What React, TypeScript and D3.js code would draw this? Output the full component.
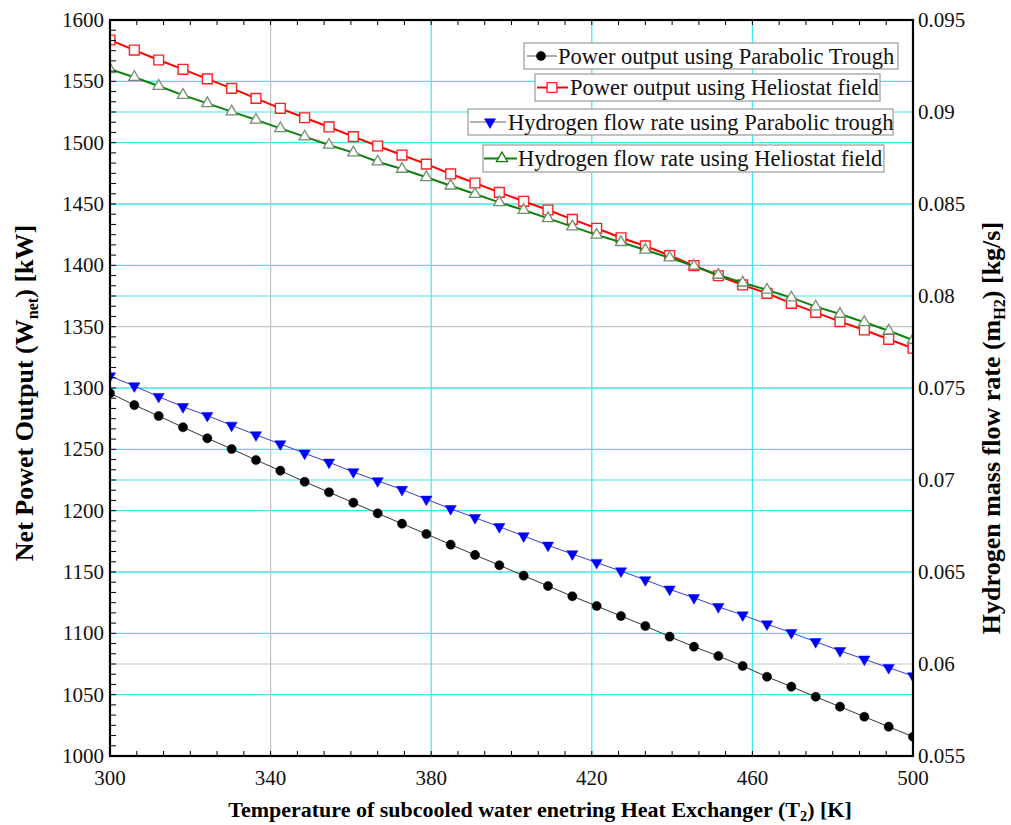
import React from "react";
import * as d3 from "d3";

// Inlet temperature of the subcooled water [K]
const temps = [
  300, 306.06, 312.12, 318.18, 324.24, 330.3, 336.36, 342.42, 348.48, 354.55,
  360.61, 366.67, 372.73, 378.79, 384.85, 390.91, 396.97, 403.03, 409.09, 415.15,
  421.21, 427.27, 433.33, 439.39, 445.45, 451.52, 457.58, 463.64, 469.7, 475.76,
  481.82, 487.88, 493.94, 500,
];

// Net power output, parabolic trough [kW]
const powerTrough = [
  1295.7, 1286.1, 1277.2, 1268.0, 1259.0, 1250.3, 1241.3, 1232.6, 1223.6, 1215.0,
  1206.5, 1197.8, 1189.4, 1181.0, 1172.3, 1163.9, 1155.5, 1147.0, 1138.6, 1130.2,
  1122.3, 1114.1, 1106.0, 1097.3, 1089.1, 1081.5, 1073.4, 1064.6, 1056.5, 1048.3,
  1040.2, 1032.0, 1023.9, 1015.7,
];

// Net power output, heliostat field [kW]
const powerHeliostat = [
  1583.7, 1575.5, 1567.4, 1559.8, 1552.0, 1544.3, 1536.1, 1528.0, 1520.3, 1512.8,
  1504.9, 1497.3, 1489.9, 1482.5, 1474.5, 1467.1, 1459.5, 1452.2, 1445.1, 1437.5,
  1430.2, 1422.5, 1415.8, 1408.0, 1399.7, 1391.5, 1384.0, 1377.2, 1369.0, 1361.7,
  1354.1, 1347.3, 1339.7, 1332.4,
];

// Hydrogen mass flow rate, parabolic trough [kg/s]
const h2Trough = [
  0.07565, 0.07511, 0.07453, 0.07398, 0.0735, 0.07297, 0.07245, 0.07196, 0.07145, 0.07096,
  0.07044, 0.06995, 0.06948, 0.06895, 0.06844, 0.06795, 0.06746, 0.06696, 0.06645, 0.06598,
  0.06551, 0.06505, 0.06457, 0.06406, 0.0636, 0.06311, 0.06266, 0.06217, 0.0617, 0.06121,
  0.06072, 0.06026, 0.0598, 0.05935,
];

// Hydrogen mass flow rate, heliostat field [kg/s]
const h2Heliostat = [
  0.09232, 0.09189, 0.09141, 0.09092, 0.09047, 0.09002, 0.08957, 0.08911, 0.08866, 0.08821,
  0.08779, 0.0873, 0.0869, 0.08645, 0.08599, 0.08554, 0.08509, 0.08467, 0.08422, 0.08377,
  0.08332, 0.08292, 0.0825, 0.08208, 0.08163, 0.08114, 0.08072, 0.08033, 0.07991, 0.07942,
  0.07902, 0.07857, 0.07811, 0.07761,
];

const xTicks = [300, 340, 380, 420, 460, 500];
const leftTicks = [1000, 1050, 1100, 1150, 1200, 1250, 1300, 1350, 1400, 1450, 1500, 1550, 1600];
const rightTicks = [0.055, 0.06, 0.065, 0.07, 0.075, 0.08, 0.085, 0.09, 0.095];
const rightTickLabels = ["0.055", "0.06", "0.065", "0.07", "0.075", "0.08", "0.085", "0.09", "0.095"];

const legendLabels = [
  "Power output using Parabolic Trough",
  "Power output using Heliostat field",
  "Hydrogen flow rate using Parabolic trough",
  "Hydrogen flow rate using Heliostat field",
];

const W = 1011;
const H = 825;
const L = 110, R = 913, T = 20, B = 756;
const FONT = "Liberation Serif, Times New Roman, serif";
const CYAN = "#45e6ee";
const GRAY = "#c4c4c4";

export default function App() {
  const x = d3.scaleLinear().domain([300, 500]).range([L, R]);
  const yL = d3.scaleLinear().domain([1000, 1600]).range([B, T]);
  const yR = d3.scaleLinear().domain([0.055, 0.095]).range([B, T]);

  const lineL = d3.line<number>().x((_, i) => x(temps[i])).y((d) => yL(d));
  const lineR = d3.line<number>().x((_, i) => x(temps[i])).y((d) => yR(d));

  const circle = d3.symbol().type(d3.symbolCircle).size(66)()!;
  const square = d3.symbol().type(d3.symbolSquare).size(96)()!;
  const triUp = d3.symbol().type(d3.symbolTriangle).size(54)()!;
  const triDown = triUp;

  const series = [
    { vals: powerTrough, line: lineL, y: yL, stroke: "#333", sw: 1, mk: circle, rot: 0, fill: "#000", mstroke: "#000", msw: 0.5 },
    { vals: h2Trough, line: lineR, y: yR, stroke: "#3a3ad6", sw: 1, mk: triDown, rot: 180, fill: "#0000ff", mstroke: "#0000ff", msw: 0.5 },
    { vals: powerHeliostat, line: lineL, y: yL, stroke: "#ff0000", sw: 2, mk: square, rot: 0, fill: "#fff", mstroke: "#ff2020", msw: 1.4 },
    { vals: h2Heliostat, line: lineR, y: yR, stroke: "#0a820a", sw: 2, mk: triUp, rot: 0, fill: "#fff", mstroke: "#6f8f6f", msw: 1.3 },
  ];

  // minor ticks: 72 divisions on the vertical, 30 on the horizontal
  const vMinor = d3.range(0, 73).map((k) => T + (k * (B - T)) / 72);
  const hMinor = d3.range(1, 30).map((k) => x(300 + (k * 200) / 30));

  const legend = [
    { box: [524, 43, 898, 69], line: [527, 557], mx: 541, tx: 558, lc: "#555", sw: 1, s: series[0] },
    { box: [535, 74, 880, 101], line: [537, 568], mx: 552, tx: 570, lc: "#ff0000", sw: 2, s: series[2] },
    { box: [468, 109, 893, 135], line: [470, 506], mx: 490, tx: 508, lc: "#999", sw: 1.5, s: series[1] },
    { box: [483, 145, 884, 172], line: [484, 517], mx: 502, tx: 518, lc: "#0a820a", sw: 2, s: series[3] },
  ];

  const serif = { fontFamily: FONT };

  return (
    <svg
      width={W}
      height={H}
      style={{ position: "absolute", left: 0, top: 0, background: "#fff", fontFamily: FONT }}
    >
      <defs>
        <clipPath id="plot">
          <rect x={L} y={T} width={R - L} height={B - T} />
        </clipPath>
      </defs>
      <rect width={W} height={H} fill="#fff" />

      {/* grid */}
      <g>
        {leftTicks.slice(1, -1).map((v) => (
          <line key={"gl" + v} x1={L} x2={R} y1={yL(v)} y2={yL(v)} stroke={v === 1350 ? GRAY : CYAN} strokeWidth={1.2} />
        ))}
        {rightTicks.slice(1, -1).map((v) => (
          <line key={"gr" + v} x1={L} x2={R} y1={yR(v)} y2={yR(v)} stroke={v === 0.06 ? GRAY : CYAN} strokeWidth={1.2} />
        ))}
        {xTicks.slice(1, -1).map((v) => (
          <line key={"gx" + v} x1={x(v)} x2={x(v)} y1={T} y2={B} stroke={v === 340 ? GRAY : CYAN} strokeWidth={1.2} />
        ))}
      </g>

      {/* series */}
      <g clipPath="url(#plot)">
        {series.map((s, si) => (
          <g key={"s" + si}>
            <path d={s.line(s.vals)!} fill="none" stroke={s.stroke} strokeWidth={s.sw} />
            {s.vals.map((v, i) => (
              <path
                key={i}
                d={s.mk}
                transform={`translate(${x(temps[i])},${s.y(v)}) rotate(${s.rot})`}
                fill={s.fill}
                stroke={s.mstroke}
                strokeWidth={s.msw}
              />
            ))}
          </g>
        ))}
      </g>

      {/* frame and ticks */}
      <g stroke="#000">
        {vMinor.map((yy, k) => (
          <line key={"vm" + k} x1={L} x2={L + 6} y1={yy} y2={yy} strokeWidth={1} />
        ))}
        {hMinor.map((xx, k) => (
          <g key={"hm" + k}>
            <line x1={xx} x2={xx} y1={B} y2={B - 5} strokeWidth={1} />
            <line x1={xx} x2={xx} y1={T} y2={T + 5} strokeWidth={1} />
          </g>
        ))}
        <rect x={L} y={T} width={R - L} height={B - T} fill="none" strokeWidth={2.2} />
      </g>

      {/* tick labels */}
      <g fontSize={21} fill="#111" style={serif}>
        {leftTicks.map((v) => (
          <text key={"lt" + v} x={L - 6} y={yL(v) + 7} textAnchor="end" style={serif}>
            {String(v)}
          </text>
        ))}
        {rightTicks.map((v, i) => (
          <text key={"rt" + v} x={R + 5} y={yR(v) + 7} textAnchor="start" style={serif}>
            {rightTickLabels[i]}
          </text>
        ))}
        {xTicks.map((v) => (
          <text key={"xt" + v} x={x(v)} y={785} textAnchor="middle" style={serif}>
            {String(v)}
          </text>
        ))}
      </g>

      {/* axis titles */}
      <text x={540} y={817} textAnchor="middle" fontSize={22} fontWeight="bold" fill="#000" style={serif}>
        Temperature of subcooled water enetring Heat Exchanger (T
        <tspan fontSize="0.65em" dy={4}>2</tspan>
        <tspan dy={-4}>) [K]</tspan>
      </text>
      <text transform="translate(33,393) rotate(-90)" textAnchor="middle" fontSize={26} fontWeight="bold" fill="#000" style={serif}>
        Net Powet Output (W
        <tspan fontSize="0.62em" dy={5}>net</tspan>
        <tspan dy={-5}>) [kW]</tspan>
      </text>
      <text transform="translate(1000,428) rotate(-90)" textAnchor="middle" fontSize={26} fontWeight="bold" fill="#000" style={serif}>
        Hydrogen mass flow rate (m
        <tspan fontSize="0.62em" dy={5}>H2</tspan>
        <tspan dy={-5}>) [kg/s]</tspan>
      </text>

      {/* legend */}
      <g>
        {legend.map((e, i) => {
          const [x0, y0, x1, y1] = e.box;
          const cy = (y0 + y1) / 2;
          return (
            <g key={"lg" + i}>
              <rect x={x0} y={y0} width={x1 - x0} height={y1 - y0} fill="#fff" stroke="#9a9a9a" strokeWidth={1.2} />
              <line x1={e.line[0]} x2={e.line[1]} y1={cy} y2={cy} stroke={e.lc} strokeWidth={e.sw} />
              <path
                d={e.s.mk}
                transform={`translate(${e.mx},${cy}) rotate(${e.s.rot})`}
                fill={e.s.fill}
                stroke={i === 3 ? "#0a820a" : e.s.mstroke}
                strokeWidth={e.s.msw}
              />
              <text x={e.tx} y={y0 + 20.5} fontSize={22.5} fill="#111" style={serif}>
                {legendLabels[i]}
              </text>
            </g>
          );
        })}
      </g>
    </svg>
  );
}
